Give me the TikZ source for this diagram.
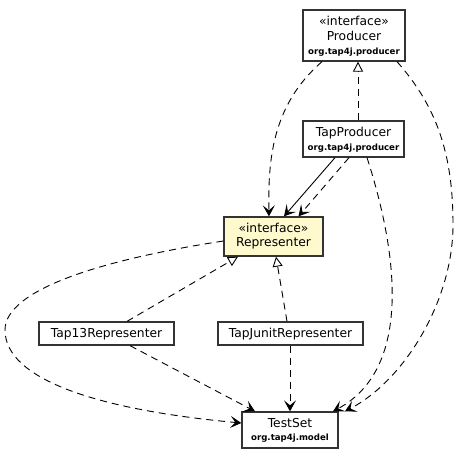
\documentclass[tikz,border=0pt]{standalone}
\usepackage{fontspec}
\setmainfont{DejaVu Sans}
\usetikzlibrary{arrows.meta,calc}
\definecolor{ifill}{RGB}{255,250,205}
\begin{document}
\begin{tikzpicture}[x=1pt,y=-1pt,
  box/.style={draw=black!80,line width=1.3pt,fill=white,inner sep=0pt,minimum width=#1},
  lbl/.style={anchor=base,inner sep=0pt,font=\fontsize{12.3}{14}\selectfont},
  pkg/.style={anchor=base,inner sep=0pt,font=\fontsize{8.6}{10}\selectfont\bfseries},
  dep/.style={line width=0.9pt,dash pattern=on 7pt off 5pt,-{Stealth[length=11pt,width=12pt,inset=5pt]}},
  uses/.style={line width=0.9pt,-{Stealth[length=11pt,width=12pt,inset=5pt]}},
  real/.style={line width=0.9pt,dash pattern=on 7pt off 5pt,-{Triangle[open,length=10pt,width=10pt,line width=0.9pt,fill=white]}}]
\useasboundingbox (0,0) rectangle (461,459);
\fill[white] (0,0) rectangle (461,459);
% boxes
\node[box=102pt,minimum height=51pt] (prod) at (354,35.5) {};
\node[box=101pt,minimum height=36pt] (tapprod) at (353.5,139) {};
\node[box=99pt,minimum height=39pt,fill=ifill] (rep) at (273.5,236.5) {};
\node[box=135pt,minimum height=23pt] (tap13) at (106.5,333.5) {};
\node[box=145pt,minimum height=23pt] (tapj) at (290.5,333.5) {};
\node[box=96pt,minimum height=36pt] (ts) at (290,430) {};
% labels
\node[lbl] (prod1) at (354,25) {«interface»};
\node[lbl] (prod2) at (354,40.5) {Producer};
\node[pkg] (prod3) at (354,54) {org.tap4j.producer};
\node[lbl] (tapprod1) at (353.5,136.5) {TapProducer};
\node[pkg] (tapprod2) at (353.5,150) {org.tap4j.producer};
\node[lbl] (rep1) at (273.5,232.5) {«interface»};
\node[lbl] (rep2) at (273.5,246.5) {Representer};
\node[lbl] (tap13l) at (106.5,337.5) {Tap13Representer};
\node[lbl] (tapjl) at (290.5,337.5) {TapJunitRepresenter};
\node[lbl] (ts1) at (290,427) {TestSet};
\node[pkg] (ts2) at (290,440.5) {org.tap4j.model};
% connectors
\draw[dep] ([xshift=-32pt]prod.south) .. controls (272,105) and (268,160) .. ([xshift=-4.5pt]rep.north);
\draw[real] ([xshift=4.5pt]tapprod.north) -- ([xshift=4pt]prod.south);
\draw[dep] ([xshift=43pt]prod.south) .. controls (440,110) and (453,160) .. (453,225) .. controls (453,300) and (405,380) .. ([xshift=55pt]ts.north);
\draw[uses] ([xshift=-18.5pt]tapprod.south) -- ([xshift=10.5pt]rep.north);
\draw[dep] ([xshift=-4.5pt]tapprod.south) -- ([xshift=25pt]rep.north);
\draw[dep] ([xshift=13.5pt]tapprod.south) .. controls (400,260) and (410,370) .. ([xshift=43pt]ts.north);
\draw[dep] ([yshift=-4.5pt]rep.west) .. controls (100,260) and (5,290) .. (5,330) .. controls (5,380) and (100,410) .. ([yshift=7pt]ts.west);
\draw[real] ([xshift=20.5pt]tap13.north) -- ([xshift=-35.5pt]rep.south);
\draw[real] ([xshift=-3.5pt]tapj.north) -- ([xshift=2.5pt]rep.south);
\draw[dep] ([xshift=23.5pt]tap13.south) -- ([xshift=-35pt]ts.north);
\draw[dep] ([xshift=-0.5pt]tapj.south) -- (ts.north);
\end{tikzpicture}
\end{document}
